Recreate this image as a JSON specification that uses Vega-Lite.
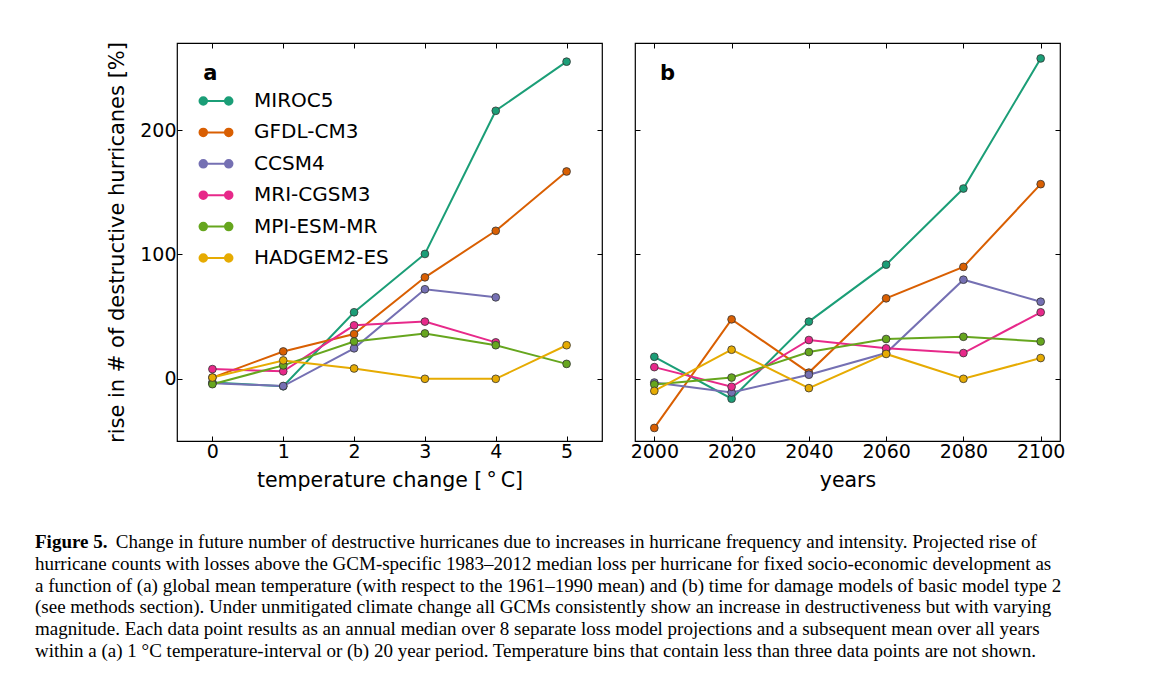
{
  "$schema": "https://vega.github.io/schema/vega-lite/v6.json",
  "padding": {"left": 35, "top": 40, "right": 5, "bottom": 5},
  "background": "white",
  "config": {
    "font": "DejaVu Sans",
    "view": {"stroke": "black", "strokeWidth": 1.2},
    "axis": {
      "domain": false, "grid": false, "tickColor": "black", "tickSize": -5, "tickWidth": 1,
      "labelFont": "DejaVu Sans", "labelFontSize": 19, "labelColor": "black",
      "titleFont": "DejaVu Sans", "titleFontSize": 20.5, "titleFontWeight": "normal", "titleColor": "black",
      "labelPadding": 6
    }
  },
  "datasets": {
    "temp": [
      {"model": "MIROC5", "temp": 0, "rise": -3}, {"model": "MIROC5", "temp": 1, "rise": -6}, {"model": "MIROC5", "temp": 2, "rise": 53.5}, {"model": "MIROC5", "temp": 3, "rise": 100.4}, {"model": "MIROC5", "temp": 4, "rise": 215.5}, {"model": "MIROC5", "temp": 5, "rise": 255},
      {"model": "GFDL-CM3", "temp": 0, "rise": 1}, {"model": "GFDL-CM3", "temp": 1, "rise": 22}, {"model": "GFDL-CM3", "temp": 2, "rise": 36}, {"model": "GFDL-CM3", "temp": 3, "rise": 81.6}, {"model": "GFDL-CM3", "temp": 4, "rise": 119}, {"model": "GFDL-CM3", "temp": 5, "rise": 166.7},
      {"model": "CCSM4", "temp": 0, "rise": -3.5}, {"model": "CCSM4", "temp": 1, "rise": -5.8}, {"model": "CCSM4", "temp": 2, "rise": 24.5}, {"model": "CCSM4", "temp": 3, "rise": 72}, {"model": "CCSM4", "temp": 4, "rise": 65.5},
      {"model": "MRI-CGSM3", "temp": 0, "rise": 7.8}, {"model": "MRI-CGSM3", "temp": 1, "rise": 6}, {"model": "MRI-CGSM3", "temp": 2, "rise": 43}, {"model": "MRI-CGSM3", "temp": 3, "rise": 46}, {"model": "MRI-CGSM3", "temp": 4, "rise": 29.3},
      {"model": "MPI-ESM-MR", "temp": 0, "rise": -4.3}, {"model": "MPI-ESM-MR", "temp": 1, "rise": 10.8}, {"model": "MPI-ESM-MR", "temp": 2, "rise": 30}, {"model": "MPI-ESM-MR", "temp": 3, "rise": 36.5}, {"model": "MPI-ESM-MR", "temp": 4, "rise": 27}, {"model": "MPI-ESM-MR", "temp": 5, "rise": 12},
      {"model": "HADGEM2-ES", "temp": 0, "rise": 1}, {"model": "HADGEM2-ES", "temp": 1, "rise": 14.8}, {"model": "HADGEM2-ES", "temp": 2, "rise": 8.3}, {"model": "HADGEM2-ES", "temp": 3, "rise": 0}, {"model": "HADGEM2-ES", "temp": 4, "rise": 0}, {"model": "HADGEM2-ES", "temp": 5, "rise": 27}
    ],
    "years": [
      {"model": "MIROC5", "year": 2000, "rise": 17.7}, {"model": "MIROC5", "year": 2020, "rise": -16}, {"model": "MIROC5", "year": 2040, "rise": 46}, {"model": "MIROC5", "year": 2060, "rise": 91.8}, {"model": "MIROC5", "year": 2080, "rise": 153}, {"model": "MIROC5", "year": 2100, "rise": 257.6},
      {"model": "GFDL-CM3", "year": 2000, "rise": -39.5}, {"model": "GFDL-CM3", "year": 2020, "rise": 47.8}, {"model": "GFDL-CM3", "year": 2040, "rise": 5}, {"model": "GFDL-CM3", "year": 2060, "rise": 64.7}, {"model": "GFDL-CM3", "year": 2080, "rise": 90}, {"model": "GFDL-CM3", "year": 2100, "rise": 156.5},
      {"model": "CCSM4", "year": 2000, "rise": -3}, {"model": "CCSM4", "year": 2020, "rise": -11}, {"model": "CCSM4", "year": 2040, "rise": 3.3}, {"model": "CCSM4", "year": 2060, "rise": 20.7}, {"model": "CCSM4", "year": 2080, "rise": 79.7}, {"model": "CCSM4", "year": 2100, "rise": 62},
      {"model": "MRI-CGSM3", "year": 2000, "rise": 9.4}, {"model": "MRI-CGSM3", "year": 2020, "rise": -6.4}, {"model": "MRI-CGSM3", "year": 2040, "rise": 31.2}, {"model": "MRI-CGSM3", "year": 2060, "rise": 24.5}, {"model": "MRI-CGSM3", "year": 2080, "rise": 20.7}, {"model": "MRI-CGSM3", "year": 2100, "rise": 53.5},
      {"model": "MPI-ESM-MR", "year": 2000, "rise": -4.5}, {"model": "MPI-ESM-MR", "year": 2020, "rise": 1}, {"model": "MPI-ESM-MR", "year": 2040, "rise": 21.5}, {"model": "MPI-ESM-MR", "year": 2060, "rise": 32}, {"model": "MPI-ESM-MR", "year": 2080, "rise": 33.8}, {"model": "MPI-ESM-MR", "year": 2100, "rise": 30},
      {"model": "HADGEM2-ES", "year": 2000, "rise": -9.7}, {"model": "HADGEM2-ES", "year": 2020, "rise": 23.4}, {"model": "HADGEM2-ES", "year": 2040, "rise": -7.5}, {"model": "HADGEM2-ES", "year": 2060, "rise": 20}, {"model": "HADGEM2-ES", "year": 2080, "rise": 0}, {"model": "HADGEM2-ES", "year": 2100, "rise": 16.7}
    ]
  },
  "title": {
    "text": "Figure 5.",
    "subtitle": [
      "\u200b\u00a0\u00a0\u00a0\u00a0\u00a0\u00a0\u00a0\u00a0\u00a0\u00a0\u00a0\u00a0\u00a0\u00a0\u00a0\u00a0\u00a0Change in future number of destructive hurricanes due to increases in hurricane frequency and intensity. Projected rise of",
      "hurricane counts with losses above the GCM-specific 1983–2012 median loss per hurricane for fixed socio-economic development as",
      "a function of (a) global mean temperature (with respect to the 1961–1990 mean) and (b) time for damage models of basic model type 2",
      "(see methods section). Under unmitigated climate change all GCMs consistently show an increase in destructiveness but with varying",
      "magnitude. Each data point results as an annual median over 8 separate loss model projections and a subsequent mean over all years",
      "within a (a) 1 °C temperature-interval or (b) 20 year period. Temperature bins that contain less than three data points are not shown."
    ],
    "orient": "bottom", "anchor": "start", "frame": "group",
    "font": "Liberation Serif", "fontSize": 19, "fontWeight": "bold", "color": "black",
    "subtitleFont": "Liberation Serif", "subtitleFontSize": 19, "subtitleFontWeight": "normal", "subtitleColor": "black",
    "subtitleLineHeight": 21.8, "subtitlePadding": -19,
    "dx": -142, "offset": 42
  },
  "spacing": 25,
  "resolve": {"scale": {"color": "shared"}},
  "hconcat": [
    {
      "width": 425, "height": 398,
      "layer": [
        {
          "data": {"name": "temp"},
          "mark": {"type": "line", "strokeWidth": 2},
          "encoding": {
            "x": {"field": "temp", "type": "quantitative", "scale": {"domain": [-0.5, 5.5], "nice": false, "zero": false},
                  "axis": {"orient": "bottom", "values": [0, 1, 2, 3, 4, 5], "title": "temperature change [\u2009°\u2009C]", "titlePadding": 9}},
            "y": {"field": "rise", "type": "quantitative", "scale": {"domain": [-50, 270], "nice": false, "zero": false},
                  "axis": {"orient": "left", "values": [0, 100, 200], "title": "rise in # of destructive hurricanes [%]", "titlePadding": 12, "titleFontSize": 21}},
            "color": {"field": "model", "type": "nominal",
                      "scale": {"domain": ["MIROC5", "GFDL-CM3", "CCSM4", "MRI-CGSM3", "MPI-ESM-MR", "HADGEM2-ES"], "range": ["#1b9e77", "#d95f02", "#7570b3", "#e7298a", "#66a61e", "#e6ab02"]},
                      "legend": {"title": null, "orient": "none", "legendX": 22, "legendY": 41, "padding": 0,
                                 "symbolType": "M-1.05,0L1.05,0M-1.05,0A0.24,0.24,0,1,0,-0.57,0A0.24,0.24,0,1,0,-1.05,0ZM0.57,0A0.24,0.24,0,1,0,1.05,0A0.24,0.24,0,1,0,0.57,0Z",
                                 "symbolSize": 986, "symbolStrokeWidth": 2, "rowPadding": 4.4, "labelOffset": 21,
                                 "labelFont": "DejaVu Sans", "labelFontSize": 20, "labelColor": "black", "labelLimit": 400,
                                 "encode": {"symbols": {"update": {"stroke": {"scale": "color", "field": "value"}, "fill": {"scale": "color", "field": "value"}, "opacity": {"value": 1}}}}}}
          }
        },
        {
          "data": {"name": "temp"},
          "mark": {"type": "point", "filled": true, "size": 60, "stroke": "#333333", "strokeWidth": 0.8, "opacity": 1},
          "encoding": {
            "x": {"field": "temp", "type": "quantitative", "axis": {"orient": "top", "values": [0, 1, 2, 3, 4, 5], "labels": false, "title": null}},
            "y": {"field": "rise", "type": "quantitative", "axis": {"orient": "right", "values": [0, 100, 200], "labels": false, "title": null}},
            "color": {"field": "model", "type": "nominal"}
          }
        },
        {
          "data": {"values": [{"panel": "a"}]},
          "mark": {"type": "text", "align": "left", "baseline": "alphabetic", "fontSize": 21, "fontWeight": "bold", "font": "DejaVu Sans", "color": "black"},
          "encoding": {
            "x": {"datum": -0.13, "type": "quantitative", "axis": null},
            "y": {"datum": 240, "type": "quantitative", "axis": null},
            "text": {"field": "panel"}
          }
        }
      ]
    },
    {
      "width": 425, "height": 398,
      "layer": [
        {
          "data": {"name": "years"},
          "mark": {"type": "line", "strokeWidth": 2},
          "encoding": {
            "x": {"field": "year", "type": "quantitative", "scale": {"domain": [1995, 2105], "nice": false, "zero": false},
                  "axis": {"orient": "bottom", "values": [2000, 2020, 2040, 2060, 2080, 2100], "format": "d", "title": "years", "titlePadding": 9}},
            "y": {"field": "rise", "type": "quantitative", "scale": {"domain": [-50, 270], "nice": false, "zero": false},
                  "axis": {"orient": "left", "values": [0, 100, 200], "labels": false, "title": null}},
            "color": {"field": "model", "type": "nominal", "legend": null}
          }
        },
        {
          "data": {"name": "years"},
          "mark": {"type": "point", "filled": true, "size": 60, "stroke": "#333333", "strokeWidth": 0.8, "opacity": 1},
          "encoding": {
            "x": {"field": "year", "type": "quantitative", "axis": {"orient": "top", "values": [2000, 2020, 2040, 2060, 2080, 2100], "labels": false, "title": null}},
            "y": {"field": "rise", "type": "quantitative", "axis": {"orient": "right", "values": [0, 100, 200], "labels": false, "title": null}},
            "color": {"field": "model", "type": "nominal", "legend": null}
          }
        },
        {
          "data": {"values": [{"panel": "b"}]},
          "mark": {"type": "text", "align": "left", "baseline": "alphabetic", "fontSize": 21, "fontWeight": "bold", "font": "DejaVu Sans", "color": "black"},
          "encoding": {
            "x": {"datum": 2001.5, "type": "quantitative", "axis": null},
            "y": {"datum": 240, "type": "quantitative", "axis": null},
            "text": {"field": "panel"}
          }
        }
      ]
    }
  ]
}
